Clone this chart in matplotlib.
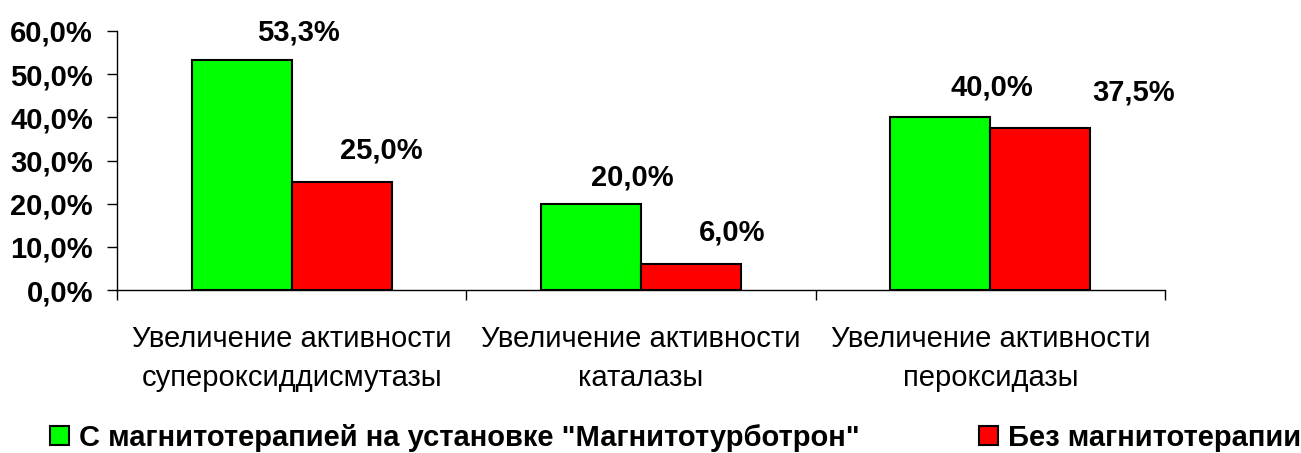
import matplotlib
matplotlib.use("Agg")
import matplotlib.pyplot as plt
import numpy as np

categories = ["Увеличение активности\nсупероксиддисмутазы",
              "Увеличение активности\nкаталазы",
              "Увеличение активности\nпероксидазы"]
series_names = ['С магнитотерапией на установке "Магнитотурботрон"',
                "Без магнитотерапии"]
with_mt = [53.3, 20.0, 40.0]
without_mt = [25.0, 6.0, 37.5]
yticks = [0, 10, 20, 30, 40, 50, 60]

plt.rcParams['font.family'] = ['Liberation Sans', 'DejaVu Sans']

fig = plt.figure(figsize=(13.01, 4.53), dpi=100)
ax = fig.add_axes([117/1301, 1-290/453, (1165-117)/1301, (290-31)/453])

x = np.arange(len(categories))
w = 0.286
b1 = ax.bar(x - w/2, with_mt, w, color="#00FF00", edgecolor="black", linewidth=1.5,
            label=series_names[0])
b2 = ax.bar(x + w/2, without_mt, w, color="#FF0000", edgecolor="black", linewidth=1.5,
            label=series_names[1])

# data labels (offsets in pixels from bar top-center, as in reference)
off1 = [(57, 30), (41, 29), (51, 33)]
off2 = [(40, 35), (41, 35), (93, 39)]
for bars, vals, offs in ((b1, with_mt, off1), (b2, without_mt, off2)):
    for rect, v, (dx, dy) in zip(bars, vals, offs):
        ax.annotate(f"{v:.1f}%".replace(".", ","),
                    (rect.get_x() + rect.get_width()/2, rect.get_height()),
                    xytext=(dx*0.72, dy*0.72), textcoords="offset points",
                    ha="center", va="center_baseline", fontsize=21, fontweight="bold")

ax.set_xlim(-0.5, 2.5)
ax.set_ylim(0, 60)
ax.set_yticks(yticks)
ax.set_yticklabels([f"{t:.1f}%".replace(".", ",") for t in yticks],
                   fontsize=21, fontweight="bold")
ax.set_xticks(x)
ax.set_xticklabels(categories, fontsize=21, linespacing=1.5)
ax.set_xticks([-0.5, 0.5, 1.5, 2.5], minor=True)
ax.tick_params(axis="x", which="major", length=0, pad=25)
ax.tick_params(axis="x", which="minor", length=7.2, width=1, direction="out")
ax.tick_params(axis="y", length=7.2, width=1, direction="out", pad=10)
for s in ("top", "right"):
    ax.spines[s].set_visible(False)
for s in ("left", "bottom"):
    ax.spines[s].set_linewidth(1)

leg = fig.legend(handles=[b1, b2], loc="center", bbox_to_anchor=(0.5192, 1-437.5/453),
                 ncol=2, frameon=False, prop={"size": 21, "weight": "bold"},
                 handlelength=0.65, handleheight=0.65, handletextpad=0.34,
                 columnspacing=4.08, borderpad=0, borderaxespad=0)

fig.savefig("out.png", dpi=100)
